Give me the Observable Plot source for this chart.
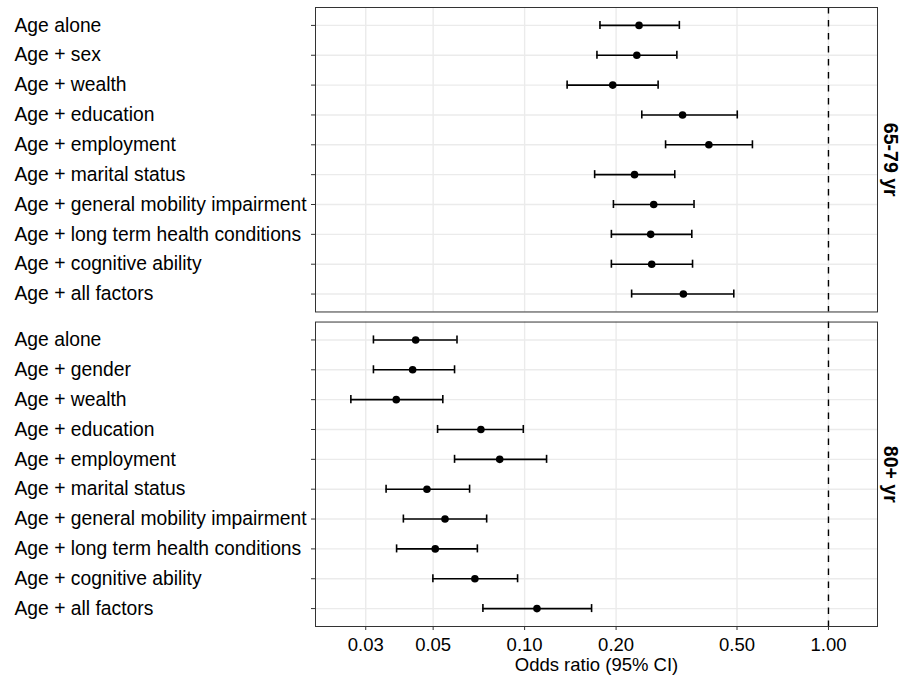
<!DOCTYPE html>
<html>
<head>
<meta charset="utf-8">
<script src="https://cdn.jsdelivr.net/npm/d3@7"></script>
<script src="https://cdn.jsdelivr.net/npm/@observablehq/plot@0.6"></script>
<style>
  html, body { margin: 0; padding: 0; background: white; }
</style>
</head>
<body>
<div id="chart"></div>
<script>
const panels = ["65-79 yr", "80+ yr"];
const labels65 = ["Age alone", "Age + sex", "Age + wealth", "Age + education", "Age + employment",
  "Age + marital status", "Age + general mobility impairment", "Age + long term health conditions",
  "Age + cognitive ability", "Age + all factors"];
const labels80 = ["Age alone", "Age + gender", "Age + wealth", "Age + education", "Age + employment",
  "Age + marital status", "Age + general mobility impairment", "Age + long term health conditions",
  "Age + cognitive ability", "Age + all factors"];

const or65 = [0.238, 0.234, 0.195, 0.331, 0.404, 0.230, 0.266, 0.260, 0.262, 0.333];
const lo65 = [0.177, 0.173, 0.138, 0.243, 0.291, 0.170, 0.196, 0.193, 0.193, 0.225];
const hi65 = [0.323, 0.317, 0.275, 0.501, 0.562, 0.312, 0.361, 0.355, 0.357, 0.488];

const or80 = [0.0438, 0.0428, 0.0378, 0.0718, 0.0828, 0.0477, 0.0547, 0.0508, 0.0686, 0.1098];
const lo80 = [0.0318, 0.0318, 0.0268, 0.0517, 0.0588, 0.0350, 0.0399, 0.0379, 0.0499, 0.0729];
const hi80 = [0.0599, 0.0588, 0.0538, 0.0990, 0.1181, 0.0659, 0.0750, 0.0699, 0.0948, 0.1661];

const xTicks = [0.03, 0.05, 0.10, 0.20, 0.50, 1.00];
const xTickLabels = ["0.03", "0.05", "0.10", "0.20", "0.50", "1.00"];
const refLine = [1];

const data = [];
labels65.forEach((label, i) => data.push({panel: panels[0], row: i, label, or: or65[i], lo: lo65[i], hi: hi65[i]}));
labels80.forEach((label, i) => data.push({panel: panels[1], row: i, label, or: or80[i], lo: lo80[i], hi: hi80[i]}));

const chart = Plot.plot({
  width: 901,
  height: 677,
  marginLeft: 315,
  marginRight: 24,
  marginTop: 7,
  marginBottom: 51,
  style: {fontFamily: "'Liberation Sans', Arial, sans-serif", background: "white", color: "black"},
  x: {type: "log", domain: [0.0205, 1.45]},
  y: {type: "band", domain: d3.range(10), paddingInner: 0.73, paddingOuter: 0.465, round: false, axis: null},
  fy: {domain: panels, paddingInner: 0.032, paddingOuter: 0, round: false, axis: null},
  marks: [
    Plot.gridX(xTicks, {stroke: "#EBEBEB", strokeOpacity: 1, strokeWidth: 1.4}),
    Plot.gridY(d3.range(10), {stroke: "#EBEBEB", strokeOpacity: 1, strokeWidth: 1.4}),
    Plot.ruleX(refLine, {stroke: "black", strokeWidth: 1.4, strokeDasharray: "6.5,6.5"}),
    Plot.ruleY(data, {fy: "panel", y: "row", x1: "lo", x2: "hi", stroke: "black", strokeWidth: 1.6}),
    Plot.tickX(data, {fy: "panel", y: "row", x: "lo", stroke: "black", strokeWidth: 1.6}),
    Plot.tickX(data, {fy: "panel", y: "row", x: "hi", stroke: "black", strokeWidth: 1.6}),
    Plot.dot(data, {fy: "panel", y: "row", x: "or", r: 3.8, fill: "black", stroke: "none"}),
    Plot.frame({stroke: "#333333", strokeWidth: 1}),
    Plot.axisY(d3.range(10), {tickSize: 4, tickFormat: () => "", stroke: "#333333", label: null}),
    Plot.text(data, {fy: "panel", y: "row", text: "label", frameAnchor: "left", textAnchor: "start", dx: -301, fontSize: 19.3, fill: "black"}),
    Plot.axisX(xTicks, {
      tickSize: 4, stroke: "#333333", fill: "black",
      tickFormat: () => "", fontSize: 18.5,
      label: "Odds ratio (95% CI)", labelAnchor: "center", labelArrow: "none", labelOffset: 44
    }),
    Plot.text(xTicks, {x: d => d, fy: () => panels[1], text: (d, i) => xTickLabels[i], frameAnchor: "bottom", lineAnchor: "top", dy: 11, fontSize: 18.5, fill: "black"}),
    Plot.text(panels, {fy: d => d, text: d => d, frameAnchor: "right", textAnchor: "middle", dx: 13, rotate: 90, fontWeight: "bold", fontSize: 19.5, fill: "black"})
  ]
});
document.getElementById("chart").appendChild(chart);
</script>
</body>
</html>
